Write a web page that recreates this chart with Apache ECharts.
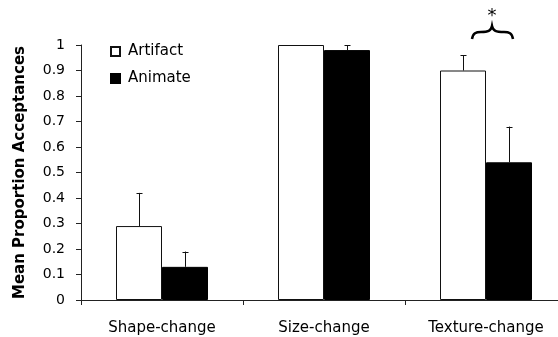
<!DOCTYPE html>
<html>
<head>
<meta charset="utf-8">
<script src="https://cdn.jsdelivr.net/npm/echarts@6/dist/echarts.min.js"></script>
<style>html,body{margin:0;padding:0;background:#fff;}#c{width:558px;height:337px;}</style>
</head>
<body>
<div id="c"></div>
<script>
const categories = ['Shape-change', 'Size-change', 'Texture-change'];
const artifact = [0.29, 1.0, 0.90];
const animate = [0.13, 0.98, 0.54];
const artifactUpper = [0.42, 1.0, 0.96];
const animateUpper = [0.19, 1.0, 0.68];
const yMin = 0, yMax = 1, yStep = 0.1;
const significantCategory = 2;

const FONT = 'DejaVu Sans';
const BAR_W = 46;

function errData(vals, uppers) {
  return vals.map((v, i) => [i, v, uppers[i]]);
}
function errRender(offset) {
  return function (params, api) {
    const v = api.value(1), u = api.value(2);
    if (u <= v) return null;
    const b = api.coord([api.value(0), v]);
    const t = api.coord([api.value(0), u]);
    const x = Math.round(b[0] + offset) + 0.5;
    const st = { stroke: '#111', lineWidth: 1 };
    return {
      type: 'group',
      children: [
        { type: 'line', shape: { x1: x, y1: b[1], x2: x, y2: t[1] }, style: st },
        { type: 'line', shape: { x1: x - 3, y1: Math.round(t[1]) + 0.5, x2: x + 3, y2: Math.round(t[1]) + 0.5 }, style: st }
      ]
    };
  };
}

const chart = echarts.init(document.getElementById('c'), null, { renderer: 'canvas' });
chart.setOption({
  animation: false,
  backgroundColor: '#fff',
  textStyle: { fontFamily: FONT, color: '#000' },
  grid: { left: 81, top: 45, bottom: 37, width: 486, outerBoundsMode: 'none', containLabel: false },
  legend: {
    orient: 'vertical',
    left: 110, top: 44, padding: 0,
    itemWidth: 9, itemHeight: 9, itemGap: 12,
    icon: 'rect',
    textStyle: { fontFamily: FONT, fontSize: 15, color: '#000', padding: [0, 0, 0, 3] },
    data: ['Artifact', 'Animate']
  },
  xAxis: {
    type: 'category',
    data: categories,
    boundaryGap: true,
    axisLine: { lineStyle: { color: '#222', width: 1 } },
    axisTick: { show: true, length: 5, lineStyle: { color: '#222' } },
    axisLabel: { margin: 21, fontSize: 15, color: '#000', fontFamily: FONT }
  },
  yAxis: {
    type: 'value',
    min: yMin, max: yMax, interval: yStep,
    name: 'Mean Proportion Acceptances',
    nameLocation: 'middle',
    nameGap: 53,
    nameTextStyle: { fontFamily: FONT, fontWeight: 'bold', fontSize: 15, color: '#000' },
    axisLine: { show: true, lineStyle: { color: '#222', width: 1 } },
    axisTick: { show: true, length: 5, lineStyle: { color: '#222' } },
    splitLine: { show: false },
    axisLabel: { margin: 16, fontSize: 14, color: '#000', fontFamily: FONT }
  },
  series: [
    {
      name: 'Artifact', type: 'bar', data: artifact,
      barWidth: BAR_W, barGap: '0%',
      itemStyle: { color: '#fff', borderColor: '#111', borderWidth: 1 }
    },
    {
      name: 'Animate', type: 'bar', data: animate,
      barWidth: BAR_W, barGap: '0%',
      itemStyle: { color: '#000', borderColor: '#000', borderWidth: 1 }
    },
    {
      type: 'custom', name: 'errA', data: errData(artifact, artifactUpper),
      renderItem: errRender(-BAR_W / 2), z: 5, silent: true
    },
    {
      type: 'custom', name: 'errB', data: errData(animate, animateUpper),
      renderItem: errRender(BAR_W / 2), z: 5, silent: true
    },
    {
      type: 'custom', name: 'sig', data: [[significantCategory, yMax]], z: 6, silent: true, clip: false,
      renderItem: function (params, api) {
        const p = api.coord([api.value(0), api.value(1)]);
        const cx = p[0] + 6, base = p[1];
        const yEnd = base - 6, yArm = base - 13, yPeak = base - 19;
        const L = cx - 20, R = cx + 21;
        const path = 'M' + L + ',' + yEnd +
          ' C' + (L + 1) + ',' + (yArm + 1) + ' ' + (L + 4) + ',' + yArm + ' ' + (L + 9) + ',' + yArm +
          ' C' + (cx - 4) + ',' + yArm + ' ' + (cx - 1) + ',' + (yArm - 1) + ' ' + cx + ',' + yPeak +
          ' C' + (cx + 1) + ',' + (yArm - 1) + ' ' + (cx + 4) + ',' + yArm + ' ' + (R - 9) + ',' + yArm +
          ' C' + (R - 4) + ',' + yArm + ' ' + (R - 1) + ',' + (yArm + 1) + ' ' + R + ',' + yEnd;
        return {
          type: 'group',
          children: [
            { type: 'path', shape: { pathData: path }, style: { fill: null, stroke: '#000', lineWidth: 2.5 } },
            { type: 'text', x: cx, y: base - 29, style: { text: '*', fontSize: 18, fontFamily: FONT, fill: '#000', align: 'center', verticalAlign: 'middle' } }
          ]
        };
      }
    }
  ]
});
</script>
</body>
</html>
